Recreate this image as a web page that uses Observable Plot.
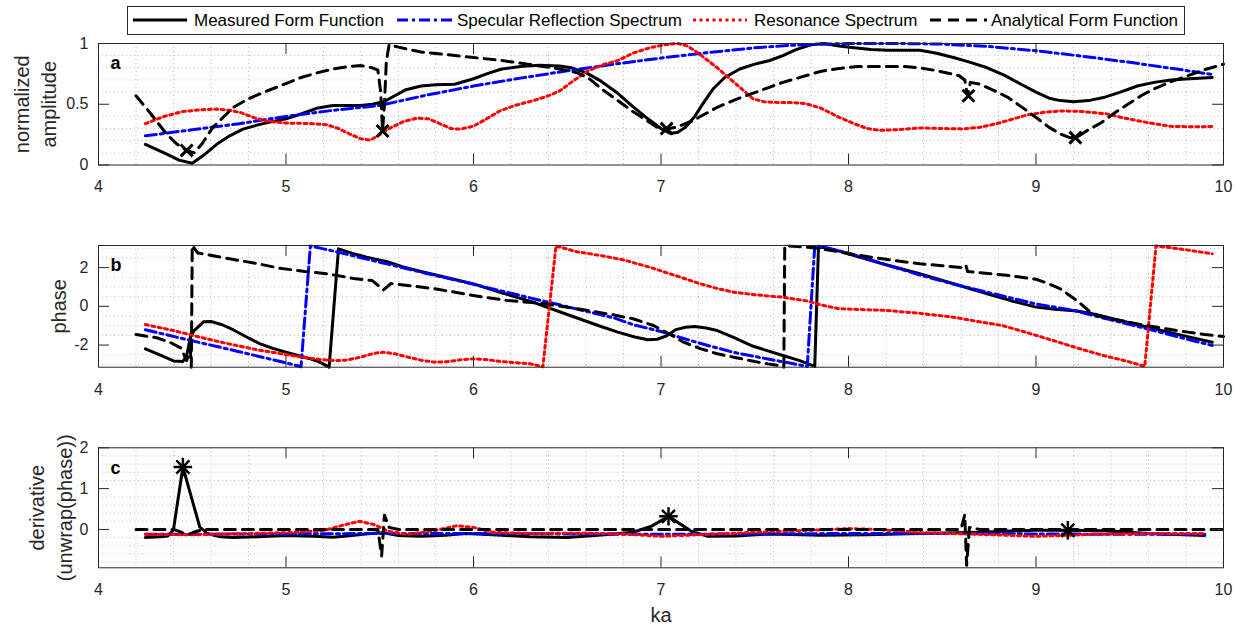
<!DOCTYPE html>
<html>
<head>
<meta charset="utf-8">
<script src="https://cdn.jsdelivr.net/npm/d3@7"></script>
<script src="https://cdn.jsdelivr.net/npm/@observablehq/plot@0.6"></script>
<style>
  html, body { margin: 0; padding: 0; background: #fff; }
  #fig { position: relative; width: 1241px; height: 627px; overflow: hidden; }
  #fig > svg { position: absolute; left: 0; }
</style>
</head>
<body>
<div id="fig"></div>
<script>
// ---------- axis ticks ----------
const xTicks = [4, 5, 6, 7, 8, 9, 10];
const ampTicks = [0, 0.5, 1];
const phaseTicks = [-2, 0, 2];
const derivTicks = [0, 1, 2];

// ---------- (a) normalized amplitude ----------
const ampMeasuredKa = [4.25,4.35,4.43,4.50,4.56,4.63,4.70,4.77,4.85,4.92,5.00,5.08,5.17,5.25,5.33,5.40,5.46,5.52,5.58,5.64,5.72,5.80,5.90,6.00,6.07,6.15,6.25,6.35,6.46,6.52,6.60,6.68,6.77,6.85,6.93,7.00,7.05,7.09,7.13,7.18,7.23,7.28,7.34,7.42,7.50,7.58,7.65,7.72,7.80,7.87,7.95,8.03,8.12,8.21,8.30,8.38,8.47,8.56,8.65,8.74,8.83,8.92,9.00,9.07,9.13,9.20,9.28,9.36,9.45,9.54,9.63,9.72,9.82,9.94];
const ampMeasured   = [0.17,0.10,0.04,0.015,0.08,0.17,0.24,0.295,0.33,0.355,0.38,0.42,0.47,0.49,0.49,0.49,0.50,0.52,0.57,0.62,0.65,0.66,0.665,0.71,0.75,0.79,0.81,0.82,0.815,0.80,0.76,0.69,0.59,0.48,0.38,0.30,0.26,0.27,0.31,0.40,0.52,0.63,0.72,0.79,0.83,0.86,0.90,0.95,0.99,1.0,0.98,0.965,0.95,0.945,0.945,0.945,0.92,0.885,0.845,0.80,0.74,0.665,0.60,0.55,0.53,0.52,0.53,0.555,0.60,0.65,0.68,0.70,0.71,0.72];

const ampSpecularKa = [4.25,4.50,4.75,5.00,5.25,5.50,5.75,6.00,6.25,6.50,6.75,7.00,7.25,7.50,7.75,8.00,8.25,8.50,8.75,9.00,9.25,9.50,9.75,9.94];
const ampSpecular   = [0.24,0.29,0.34,0.40,0.45,0.49,0.575,0.65,0.715,0.775,0.83,0.88,0.925,0.965,0.99,1.0,1.0,0.995,0.975,0.94,0.895,0.845,0.79,0.745];

const ampResonanceKa = [4.25,4.35,4.45,4.55,4.63,4.70,4.76,4.83,4.90,5.00,5.08,5.15,5.22,5.28,5.34,5.40,5.45,5.50,5.55,5.63,5.70,5.76,5.82,5.88,5.93,6.00,6.07,6.14,6.22,6.32,6.40,6.46,6.53,6.61,6.70,6.77,6.85,6.94,7.02,7.09,7.14,7.19,7.25,7.30,7.36,7.42,7.49,7.55,7.62,7.70,7.77,7.85,7.94,8.03,8.10,8.17,8.25,8.38,8.50,8.61,8.70,8.79,8.88,8.96,9.05,9.13,9.25,9.38,9.46,9.54,9.63,9.72,9.82,9.94];
const ampResonance   = [0.34,0.40,0.44,0.455,0.46,0.45,0.43,0.39,0.36,0.345,0.343,0.34,0.33,0.30,0.255,0.215,0.205,0.25,0.30,0.36,0.385,0.38,0.34,0.30,0.295,0.32,0.38,0.445,0.49,0.53,0.57,0.61,0.69,0.775,0.83,0.86,0.92,0.965,0.99,1.0,0.98,0.93,0.86,0.80,0.72,0.64,0.545,0.52,0.515,0.515,0.505,0.47,0.40,0.34,0.30,0.285,0.29,0.305,0.30,0.297,0.31,0.34,0.38,0.415,0.435,0.445,0.44,0.42,0.39,0.365,0.34,0.318,0.315,0.316];

const ampAnalyticalKa = [4.20,4.28,4.36,4.42,4.47,4.51,4.55,4.61,4.67,4.72,4.80,4.90,5.00,5.08,5.17,5.25,5.33,5.40,5.46,5.49,5.505,5.515,5.525,5.535,5.55,5.60,5.72,5.85,6.00,6.15,6.29,6.46,6.55,6.61,6.68,6.77,6.85,6.92,6.98,7.02,7.08,7.17,7.30,7.40,7.48,7.57,7.65,7.75,7.85,7.95,8.05,8.20,8.30,8.40,8.47,8.55,8.59,8.62,8.635,8.65,8.70,8.78,8.85,8.93,9.01,9.07,9.13,9.18,9.22,9.28,9.35,9.42,9.49,9.56,9.63,9.72,9.81,9.90,10.0];
const ampAnalytical   = [0.57,0.42,0.26,0.17,0.12,0.10,0.17,0.31,0.40,0.475,0.545,0.61,0.67,0.72,0.76,0.79,0.81,0.818,0.80,0.78,0.60,0.28,0.50,0.85,0.99,0.97,0.93,0.91,0.885,0.86,0.83,0.79,0.76,0.72,0.63,0.53,0.44,0.37,0.31,0.295,0.31,0.365,0.475,0.54,0.585,0.635,0.68,0.725,0.77,0.795,0.81,0.81,0.81,0.795,0.776,0.75,0.735,0.70,0.57,0.68,0.665,0.61,0.557,0.47,0.38,0.31,0.256,0.225,0.23,0.29,0.35,0.43,0.50,0.57,0.626,0.685,0.735,0.785,0.83];

const ampMinimaKa = [4.47, 5.515, 7.03, 8.64, 9.21];
const ampMinima   = [0.12, 0.28, 0.30, 0.57, 0.225];

// ---------- (b) phase ----------
const phMeasuredKa = [4.25,4.33,4.40,4.45,4.47,4.49,4.51,4.56,4.60,4.66,4.72,4.79,4.86,4.93,5.00,5.07,5.13,5.18,5.23,5.28,5.35,5.43,5.54,5.62,5.72,5.85,6.00,6.15,6.32,6.39,6.50,6.59,6.68,6.77,6.86,6.93,6.98,7.03,7.08,7.13,7.18,7.24,7.30,7.39,7.48,7.57,7.65,7.74,7.82,7.84,7.95,8.03,8.20,8.38,8.56,8.74,8.87,9.00,9.10,9.22,9.32,9.41,9.52,9.63,9.78,9.94];
const phMeasured   = [-2.19,-2.52,-2.82,-2.85,-2.55,-1.60,-1.25,-0.80,-0.78,-0.95,-1.22,-1.58,-1.93,-2.17,-2.37,-2.55,-2.71,-2.88,-3.14,2.97,2.75,2.54,2.30,2.05,1.80,1.50,1.16,0.70,0.21,-0.04,-0.42,-0.73,-1.04,-1.33,-1.58,-1.72,-1.70,-1.52,-1.20,-1.08,-1.04,-1.12,-1.25,-1.62,-2.02,-2.30,-2.54,-2.80,-3.10,3.10,2.85,2.62,2.15,1.68,1.17,0.65,0.28,-0.04,-0.15,-0.24,-0.42,-0.64,-0.90,-1.16,-1.50,-1.85];

const phSpecularKa = [4.25,4.50,4.75,5.00,5.08,5.13,5.25,5.50,5.75,6.00,6.25,6.50,6.75,6.85,7.00,7.12,7.25,7.39,7.57,7.70,7.78,7.82,7.87,8.00,8.20,8.38,8.56,8.74,9.00,9.20,9.40,9.63,9.80,9.94];
const phSpecular   = [-1.21,-1.78,-2.34,-2.92,-3.12,3.12,2.86,2.28,1.70,1.14,0.56,-0.02,-0.60,-0.94,-1.30,-1.66,-2.02,-2.38,-2.72,-2.95,-3.10,3.12,3.05,2.75,2.15,1.62,1.15,0.73,0.12,-0.21,-0.70,-1.25,-1.68,-2.02];

const phResonanceKa = [4.25,4.40,4.54,4.70,4.85,5.00,5.12,5.25,5.32,5.40,5.47,5.52,5.58,5.65,5.72,5.79,5.86,5.93,6.00,6.07,6.14,6.22,6.30,6.37,6.44,6.55,6.68,6.80,6.94,7.08,7.21,7.30,7.39,7.50,7.65,7.78,7.85,7.95,8.05,8.20,8.38,8.56,8.70,8.82,8.95,9.09,9.22,9.36,9.48,9.58,9.64,9.80,9.94];
const phResonance   = [-0.94,-1.25,-1.59,-1.95,-2.25,-2.49,-2.68,-2.80,-2.78,-2.62,-2.42,-2.37,-2.45,-2.62,-2.78,-2.88,-2.86,-2.76,-2.71,-2.75,-2.84,-2.90,-2.96,-3.12,3.12,2.82,2.62,2.40,2.02,1.58,1.16,0.92,0.73,0.60,0.47,0.28,0.08,-0.12,-0.16,-0.21,-0.36,-0.56,-0.80,-0.99,-1.35,-1.76,-2.15,-2.54,-2.82,-3.10,3.12,2.92,2.71];

const phAnalyticalKa = [4.20,4.31,4.38,4.44,4.47,4.49,4.495,4.50,4.53,4.585,4.72,4.85,4.96,5.10,5.22,5.36,5.46,5.52,5.56,5.65,5.80,6.00,6.18,6.37,6.61,6.75,6.85,6.96,7.04,7.12,7.21,7.30,7.40,7.50,7.57,7.63,7.655,7.66,7.73,7.82,7.90,8.00,8.12,8.25,8.38,8.50,8.60,8.625,8.635,8.70,8.83,9.00,9.06,9.13,9.23,9.30,9.38,9.45,9.55,9.63,9.72,9.81,9.90,10.0];
const phAnalytical   = [-1.45,-1.62,-1.85,-2.15,-2.80,-2.20,-3.14,3.14,2.75,2.66,2.42,2.20,1.98,1.80,1.68,1.44,1.33,0.85,1.18,1.08,0.90,0.56,0.30,0.15,-0.21,-0.45,-0.64,-0.99,-1.40,-1.85,-2.18,-2.45,-2.65,-2.85,-2.97,-3.05,-3.14,3.12,3.09,3.02,2.90,2.72,2.54,2.36,2.20,2.10,2.01,2.15,1.80,1.74,1.62,1.40,1.20,0.90,0.21,-0.39,-0.62,-0.73,-0.92,-1.05,-1.20,-1.33,-1.45,-1.56];

// ---------- (c) derivative of unwrapped phase ----------
const dvMeasuredKa = [4.25,4.33,4.37,4.40,4.45,4.54,4.58,4.65,4.72,4.85,5.00,5.15,5.25,5.35,5.45,5.52,5.60,5.72,5.85,5.96,6.10,6.30,6.50,6.70,6.85,6.95,7.04,7.16,7.25,7.40,7.57,7.75,7.85,8.10,8.38,8.70,8.99,9.17,9.37,9.60,9.90];
const dvMeasured   = [-0.20,-0.18,-0.16,0.0,1.53,0.06,-0.10,-0.18,-0.20,-0.18,-0.15,-0.17,-0.19,-0.15,-0.10,-0.08,-0.15,-0.17,-0.14,-0.10,-0.13,-0.18,-0.20,-0.13,-0.07,0.08,0.32,-0.04,-0.17,-0.16,-0.11,-0.13,-0.14,-0.13,-0.10,-0.07,-0.02,-0.02,-0.03,-0.10,-0.15];

const dvSpecularKa = [4.25,5.00,5.50,6.00,6.50,7.00,7.50,8.00,8.50,9.00,9.50,9.90];
const dvSpecular   = [-0.12,-0.11,-0.10,-0.10,-0.11,-0.12,-0.11,-0.10,-0.10,-0.11,-0.12,-0.12];

const dvResonanceKa = [4.25,4.50,4.80,5.00,5.20,5.30,5.39,5.47,5.55,5.65,5.80,5.91,6.00,6.10,6.30,6.60,6.80,7.00,7.20,7.50,7.80,8.00,8.15,8.40,8.70,9.00,9.30,9.60,9.90];
const dvResonance   = [-0.12,-0.13,-0.10,-0.08,-0.03,0.10,0.20,0.12,-0.05,-0.12,-0.02,0.09,0.05,-0.07,-0.10,-0.09,-0.11,-0.17,-0.13,-0.07,-0.02,0.02,0.0,-0.08,-0.12,-0.17,-0.12,-0.10,-0.10];

const dvAnalyticalKa = [4.20,4.40,4.45,4.48,4.52,4.56,5.49,5.51,5.525,5.55,5.60,8.60,8.62,8.63,8.645,8.70,10.0];
const dvAnalytical   = [0,0,-0.08,-0.12,-0.05,0,0,-0.65,0.35,0.05,0,0,0.36,-0.88,0.05,0,0];

const dvPeaksKa = [4.45, 7.04, 9.17];
const dvPeaks   = [1.53, 0.32, -0.02];

// ---------- series appearance ----------
const seriesNames = ["Measured Form Function", "Specular Reflection Spectrum", "Resonance Spectrum", "Analytical Form Function"];
const seriesStyle = [
  {stroke: "#000000", strokeWidth: 3, strokeDasharray: null},
  {stroke: "#0000ff", strokeWidth: 3, strokeDasharray: "11,4,3,4"},
  {stroke: "#ff0000", strokeWidth: 3, strokeDasharray: "3,3.5"},
  {stroke: "#000000", strokeWidth: 3, strokeDasharray: "11,7"}
];

const FONT = '"Liberation Sans", Arial, Helvetica, sans-serif';
const INK = "#262626";
const GRID = "#bcbcbc";
const TICK = 11;
const WIDTH = 1241, ML = 98, MR = 18;
const FRAME_W = WIDTH - ML - MR;

const xMinor = d3.range(4, 10.001, 0.2).map(v => +v.toFixed(2)).filter(v => Math.abs(v - Math.round(v)) > 1e-6);

function panel({height, mt, mb, yDomain, yTicks, yMinor, yLabel, yLabelDx, lineHeight, letter, series, markers, markerKind, xLabel}) {
  const frameH = height - mt - mb;
  const marks = [
    Plot.ruleX(xMinor, {stroke: GRID, strokeDasharray: "1,3", strokeWidth: 1}),
    Plot.ruleY(yMinor, {stroke: GRID, strokeDasharray: "1,3", strokeWidth: 1})
  ];
  series.forEach(([ka, v], i) => {
    const s = seriesStyle[i];
    marks.push(Plot.line(ka, {x: ka, y: v, stroke: s.stroke, strokeWidth: s.strokeWidth, strokeDasharray: s.strokeDasharray, strokeLinejoin: "round"}));
  });
  const [mKa, mV] = markers;
  if (markerKind === "times") {
    marks.push(Plot.dot(mKa, {x: mKa, y: mV, symbol: "times", r: 5.5, stroke: "#000", strokeWidth: 3}));
  } else {
    marks.push(Plot.dot(mKa, {x: mKa, y: mV, symbol: "plus", r: 6, stroke: "#000", strokeWidth: 2.5}));
    marks.push(Plot.dot(mKa, {x: mKa, y: mV, symbol: "times", r: 6, stroke: "#000", strokeWidth: 2.5}));
  }
  marks.push(
    Plot.frame({stroke: INK, strokeWidth: 1}),
    // tick marks pointing into the frame on all four sides
    Plot.ruleX(xTicks, {stroke: INK, strokeWidth: 1, insetTop: frameH - TICK}),
    Plot.ruleX(xTicks, {stroke: INK, strokeWidth: 1, insetBottom: frameH - TICK}),
    Plot.ruleY(yTicks, {stroke: INK, strokeWidth: 1, insetRight: FRAME_W - TICK}),
    Plot.ruleY(yTicks, {stroke: INK, strokeWidth: 1, insetLeft: FRAME_W - TICK}),
    // tick labels
    Plot.axisX(xTicks, {anchor: "bottom", tickSize: 0, tickPadding: 16, fontSize: 16, fill: INK, label: null, tickFormat: d => String(d)}),
    Plot.axisY(yTicks, {anchor: "left", tickSize: 0, tickPadding: 10, fontSize: 16, fill: INK, label: null, tickFormat: d => String(d)}),
    // axis title
    Plot.text([yLabel], {frameAnchor: "left", text: d => d, rotate: -90, dx: yLabelDx, fontSize: 20, fill: INK, lineHeight, textAnchor: "middle", lineAnchor: "middle"}),
    // panel letter
    Plot.text([letter], {frameAnchor: "top-left", text: d => d, dx: 12, dy: 20, fontSize: 18, fontWeight: "bold", fill: "#000", textAnchor: "start", lineAnchor: "middle"})
  );
  if (xLabel) {
    marks.push(Plot.text([xLabel], {frameAnchor: "bottom", text: d => d, dy: 48, fontSize: 20, fill: INK, lineAnchor: "middle"}));
  }
  return Plot.plot({
    width: WIDTH, height,
    marginLeft: ML, marginRight: MR, marginTop: mt, marginBottom: mb,
    x: {domain: [4, 10]},
    y: {domain: yDomain},
    style: {fontFamily: FONT, fontSize: "16px", color: INK, background: "transparent"},
    marks
  });
}

const fig = document.getElementById("fig");

const pa = panel({
  height: 200, mt: 43, mb: 35.5, yDomain: [0, 1], yTicks: ampTicks,
  yMinor: [0.1,0.2,0.3,0.4,0.6,0.7,0.8,0.9],
  yLabel: "normalized\namplitude", yLabelDx: -64.5, lineHeight: 1.35, letter: "a",
  series: [[ampMeasuredKa, ampMeasured], [ampSpecularKa, ampSpecular], [ampResonanceKa, ampResonance], [ampAnalyticalKa, ampAnalytical]],
  markers: [ampMinimaKa, ampMinima], markerKind: "times"
});
pa.style.top = "0px";
fig.appendChild(pa);

const pb = panel({
  height: 200, mt: 45, mb: 33.3, yDomain: [-Math.PI, Math.PI], yTicks: phaseTicks,
  yMinor: [-3,-2.5,-1.5,-1,-0.5,0.5,1,1.5,2.5,3],
  yLabel: "phase", yLabelDx: -41, lineHeight: 1.35, letter: "b",
  series: [[phMeasuredKa, phMeasured], [phSpecularKa, phSpecular], [phResonanceKa, phResonance], [phAnalyticalKa, phAnalytical]],
  markers: [[], []], markerKind: "times"
});
pb.style.top = "200px";
fig.appendChild(pb);

const pc = panel({
  height: 227, mt: 47.3, mb: 59.7, yDomain: [-0.94, 2], yTicks: derivTicks,
  yMinor: [-0.8,-0.6,-0.4,-0.2,0.2,0.4,0.6,0.8,1.2,1.4,1.6,1.8],
  yLabel: "derivative\n(unwrap(phase))", yLabelDx: -49, lineHeight: 1.4, letter: "c",
  series: [[dvMeasuredKa, dvMeasured], [dvSpecularKa, dvSpecular], [dvResonanceKa, dvResonance], [dvAnalyticalKa, dvAnalytical]],
  markers: [dvPeaksKa, dvPeaks], markerKind: "asterisk", xLabel: "ka"
});
pc.style.top = "400px";
fig.appendChild(pc);

// ---------- legend ----------
const legendSwatch = [[133, 187], [397, 453], [693, 747], [930, 987]];
const legendText = [194, 457, 754, 991];
const lg = d3.create("svg").attr("width", WIDTH).attr("height", 42).style("top", "0px")
  .style("font-family", FONT);
lg.append("rect").attr("x", 127.5).attr("y", 6.5).attr("width", 1057).attr("height", 28)
  .attr("fill", "#fff").attr("stroke", INK).attr("stroke-width", 1);
seriesNames.forEach((name, i) => {
  const s = seriesStyle[i];
  lg.append("line").attr("x1", legendSwatch[i][0]).attr("x2", legendSwatch[i][1]).attr("y1", 20).attr("y2", 20)
    .attr("stroke", s.stroke).attr("stroke-width", s.strokeWidth).attr("stroke-dasharray", s.strokeDasharray);
  lg.append("text").attr("x", legendText[i]).attr("y", 20).attr("dy", "0.35em")
    .attr("font-size", 17).attr("fill", "#000").text(name);
});
fig.appendChild(lg.node());
</script>
</body>
</html>
